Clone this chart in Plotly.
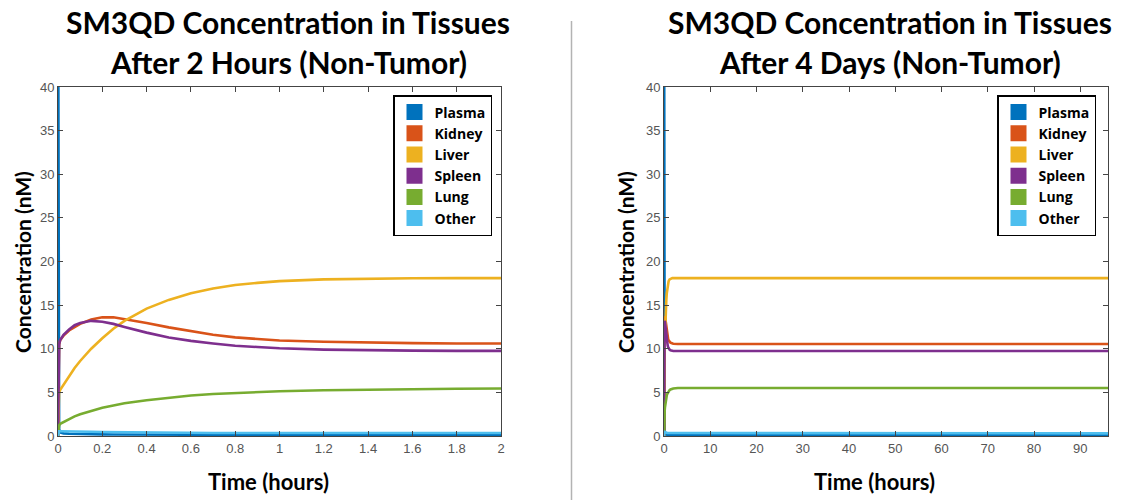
import plotly.graph_objects as go

# ---- data (hours, nM) ----
time_h = [0, 0.002, 0.005, 0.01, 0.025, 0.05, 0.075, 0.1, 0.15, 0.2, 0.25, 0.3,
          0.4, 0.5, 0.6, 0.7, 0.8, 0.9, 1.0, 1.2, 1.4, 1.6, 1.8, 2.0,
          3, 4, 6, 12, 24, 48, 72, 96]

plasma = [60, 3.0, 0.8, 0.4, 0.3, 0.25, 0.23, 0.22, 0.2, 0.19, 0.18, 0.17,
          0.16, 0.15, 0.14, 0.13, 0.13, 0.12, 0.12, 0.11, 0.11, 0.1, 0.1, 0.1,
          0.1, 0.1, 0.1, 0.1, 0.1, 0.1, 0.1, 0.1]
kidney = [0, 6.0, 10.5, 11.0, 11.5, 12.1, 12.5, 12.85, 13.35, 13.6, 13.6, 13.4,
          12.95, 12.45, 12.0, 11.6, 11.3, 11.1, 10.95, 10.8, 10.7, 10.65, 10.6, 10.58,
          10.55, 10.55, 10.55, 10.55, 10.55, 10.55, 10.55, 10.55]
liver = [0, 3.0, 5.0, 5.3, 5.9, 6.9, 7.8, 8.6, 10.0, 11.2, 12.3, 13.2,
         14.6, 15.6, 16.35, 16.9, 17.3, 17.55, 17.75, 17.95, 18.03, 18.08, 18.1, 18.1,
         18.1, 18.1, 18.1, 18.1, 18.1, 18.1, 18.1, 18.1]
spleen = [0, 6.0, 10.5, 11.0, 11.6, 12.2, 12.7, 12.95, 13.2, 13.1, 12.85, 12.5,
          11.85, 11.3, 10.9, 10.6, 10.35, 10.2, 10.05, 9.9, 9.82, 9.78, 9.76, 9.75,
          9.75, 9.75, 9.75, 9.75, 9.75, 9.75, 9.75, 9.75]
lung = [0, 0.8, 1.2, 1.4, 1.6, 1.95, 2.25, 2.5, 2.9, 3.25, 3.5, 3.75,
        4.1, 4.4, 4.65, 4.82, 4.95, 5.05, 5.13, 5.25, 5.33, 5.38, 5.42, 5.45,
        5.5, 5.5, 5.5, 5.5, 5.5, 5.5, 5.5, 5.5]
other = [0, 0.5, 0.55, 0.55, 0.55, 0.53, 0.52, 0.5, 0.48, 0.46, 0.44, 0.42,
         0.4, 0.38, 0.36, 0.35, 0.34, 0.34, 0.33, 0.32, 0.31, 0.31, 0.3, 0.3,
         0.3, 0.3, 0.3, 0.3, 0.3, 0.3, 0.3, 0.3]

series_names = ["Plasma", "Kidney", "Liver", "Spleen", "Lung", "Other"]
series_values = [plasma, kidney, liver, spleen, lung, other]
colors = ["#0072BD", "#D95319", "#EDB120", "#7E2F8E", "#77AC30", "#4DBEEE"]

titles = [["SM3QD Concentration in Tissues", "After 2 Hours (Non-Tumor)"],
          ["SM3QD Concentration in Tissues", "After 4 Days (Non-Tumor)"]]
x_ranges = [[0, 2], [0, 96]]
x_dticks = [0.2, 10]
y_range = [0, 40]

W, H = 1125, 500
PT, PB = 87, 436  # plot top/bottom in px
panels_px = [(58, 501), (664, 1108)]


def px_x(p):
    return p / W


def px_y(p):
    return (PB - p) / (PB - PT)


fig = go.Figure()
for k in range(2):
    xa = "x" if k == 0 else "x2"
    ya = "y" if k == 0 else "y2"
    lg = "legend" if k == 0 else "legend2"
    for name, vals, col in zip(series_names, series_values, colors):
        fig.add_trace(go.Scatter(x=time_h, y=vals, mode="lines", name=name,
                                 line=dict(color=col, width=2.6),
                                 xaxis=xa, yaxis=ya, showlegend=False))
    for name, col in zip(series_names, colors):
        fig.add_trace(go.Scatter(x=[None], y=[None], mode="markers", name=name,
                                 marker=dict(symbol="square", size=16, color=col),
                                 xaxis=xa, yaxis=ya, showlegend=True, legend=lg))

axis_common = dict(showline=True, mirror="ticks", linecolor="#444444", linewidth=1,
                   ticks="inside", ticklen=5, tickcolor="#444444",
                   showgrid=False, zeroline=False, automargin=False,
                   tickfont=dict(family="Liberation Sans, Arial", size=13, color="#555555"))

legend_font = dict(family="Open Sans", size=14, color="black", weight="bold")
fig.update_layout(
    width=W, height=H,
    margin=dict(l=0, r=0, t=PT, b=H - PB, autoexpand=False),
    plot_bgcolor="white", paper_bgcolor="white",
    xaxis=dict(domain=[px_x(panels_px[0][0]), px_x(panels_px[0][1])], range=x_ranges[0],
               dtick=x_dticks[0], tick0=0, anchor="y", **axis_common),
    yaxis=dict(range=y_range, dtick=5, anchor="x", **axis_common),
    xaxis2=dict(domain=[px_x(panels_px[1][0]), px_x(panels_px[1][1])], range=x_ranges[1],
                dtick=x_dticks[1], tick0=0, anchor="y2", **axis_common),
    yaxis2=dict(range=y_range, dtick=5, anchor="x2", **axis_common),
    legend=dict(x=px_x(492), y=px_y(95), xanchor="right", yanchor="top",
                bordercolor="black", borderwidth=1.5, bgcolor="white",
                font=legend_font, tracegroupgap=0, itemwidth=30),
    legend2=dict(x=px_x(1096), y=px_y(95), xanchor="right", yanchor="top",
                 bordercolor="black", borderwidth=1.5, bgcolor="white",
                 font=legend_font, tracegroupgap=0, itemwidth=30),
    showlegend=True,
)

title_font = dict(family="Lato", size=30, color="black", weight="bold")
ylabel_font = dict(family="Lato", size=21, color="black", weight="bold")
xlabel_font = dict(family="Lato", size=22, color="black", weight="bold")
title_cx = [288, 890]
xlabel_cx = [268, 874]
ylabel_cx = [22, 625]
annotations = []
for k in range(2):
    for line_i, (txt, py) in enumerate(zip(titles[k], [22, 62])):
        annotations.append(dict(text=txt, x=px_x(title_cx[k]), y=px_y(py), xref="paper", yref="paper",
                                xanchor="center", yanchor="middle", showarrow=False, font=title_font))
    annotations.append(dict(text="Time (hours)", x=px_x(xlabel_cx[k]), y=px_y(481), xref="paper",
                            yref="paper", xanchor="center", yanchor="middle", showarrow=False,
                            font=xlabel_font))
    annotations.append(dict(text="Concentration (nM)", x=px_x(ylabel_cx[k]), y=px_y(262), xref="paper",
                            yref="paper", xanchor="center", yanchor="middle", showarrow=False,
                            textangle=-90, font=ylabel_font))
fig.update_layout(annotations=annotations)

fig.add_shape(type="line", xref="paper", yref="paper", x0=px_x(571.5), x1=px_x(571.5),
              y0=px_y(21), y1=px_y(500), line=dict(color="#b3b3b3", width=1.5))

fig.write_html("out.html", config={"displayModeBar": False},
               post_script="document.body.style.margin='0px';")
